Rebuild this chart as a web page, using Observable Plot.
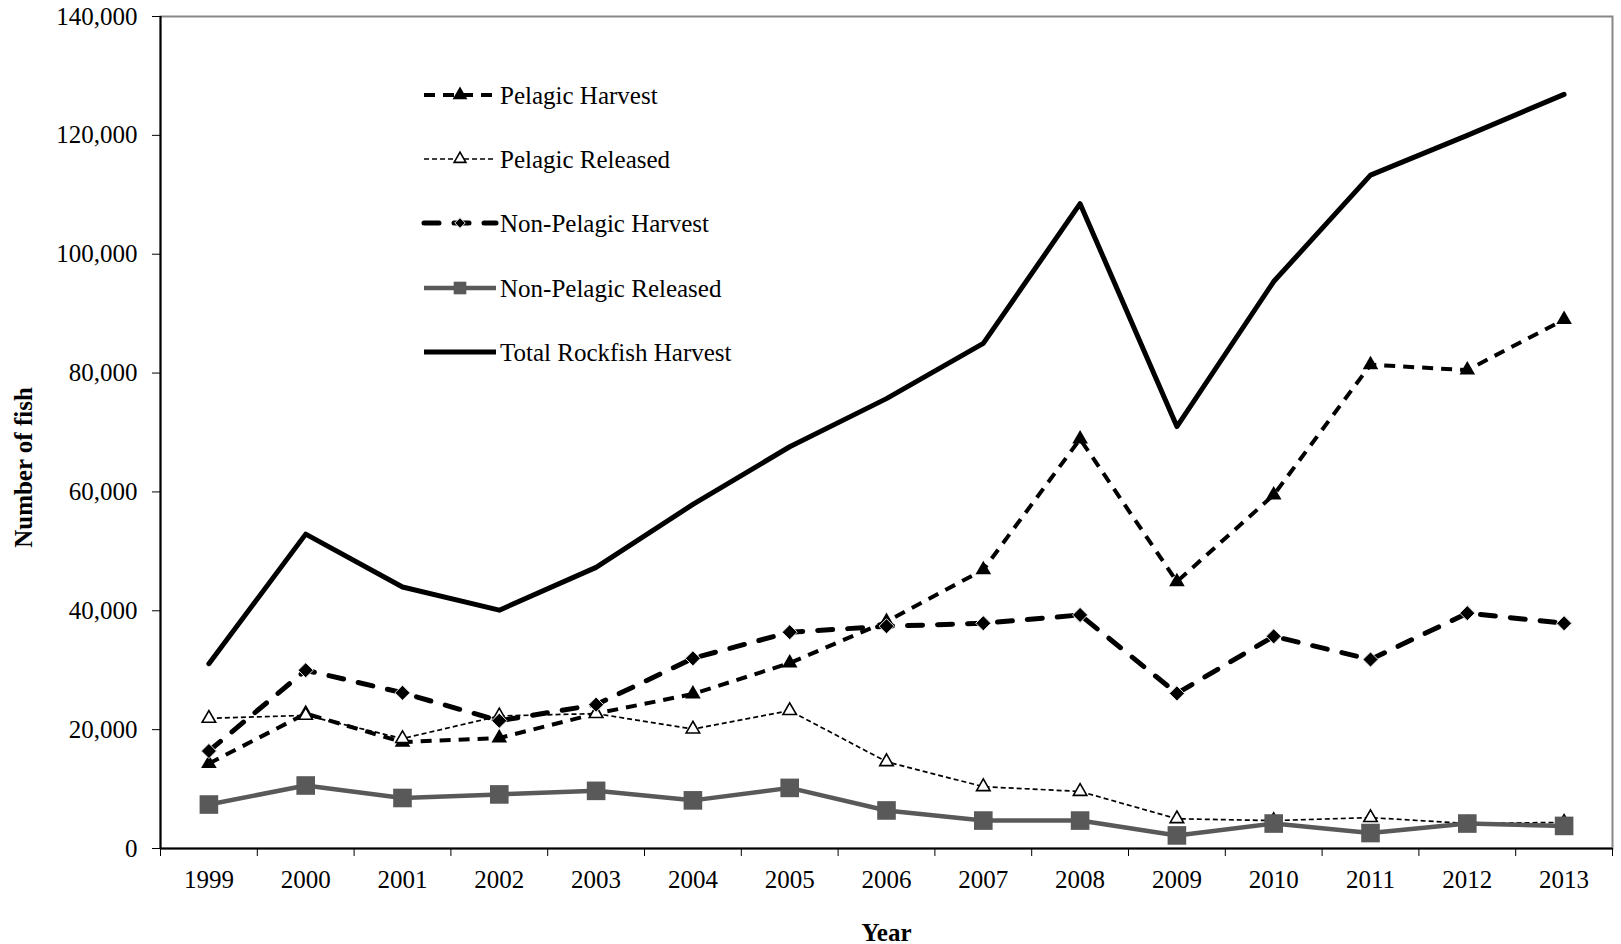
<!DOCTYPE html>
<html><head><meta charset="utf-8">
<script src="https://cdn.jsdelivr.net/npm/d3@7"></script>
<script src="https://cdn.jsdelivr.net/npm/@observablehq/plot@0.6"></script>
<style>
body{margin:0;background:#fff;}
#chart{width:1621px;height:944px;}
</style></head><body><div id="chart"></div>
<script>
const years = [1999,2000,2001,2002,2003,2004,2005,2006,2007,2008,2009,2010,2011,2012,2013];
const pelagicHarvest     = [14300,22700,17900,18600,22700,26000,31200,38200,46900,68900,44900,59500,81400,80500,89000];
const pelagicReleased    = [21900,22400,18500,22300,22700,20100,23200,14600,10400,9600,5000,4700,5200,4200,4400];
const nonPelagicHarvest  = [16400,30000,26200,21500,24200,32000,36400,37400,37900,39300,26100,35700,31800,39600,37900];
const nonPelagicReleased = [7400,10600,8500,9100,9700,8100,10200,6400,4700,4700,2200,4200,2600,4200,3800];
const totalHarvest       = [31100,52900,44000,40100,47300,57900,67600,75700,85000,108500,71000,95400,113300,120000,126900];
const yTicks = [0,20000,40000,60000,80000,100000,120000,140000];
const seriesNames = ["Pelagic Harvest","Pelagic Released","Non-Pelagic Harvest","Non-Pelagic Released","Total Rockfish Harvest"];

const rows = vals => years.map((year, i) => ({year, value: vals[i]}));
const boundaries = years.map(y => y - 0.5).concat([years[years.length - 1] + 0.5]);

const styles = [
  {data: rows(pelagicHarvest), stroke: "#000", width: 4, dash: "11,8", cap: "butt",
   symbol: "triangle", r: 5.8, fill: "#000", mstroke: "none", mw: 0},
  {data: rows(pelagicReleased), stroke: "#000", width: 1.7, dash: "5,3", cap: "butt",
   symbol: "triangle", r: 5.0, fill: "#fff", mstroke: "#000", mw: 1.6},
  {data: rows(nonPelagicHarvest), stroke: "#000", width: 5, dash: "15,15", cap: "round",
   symbol: "diamond2", r: 6.8, fill: "#000", mstroke: "#e6e6e6", mw: 1},
  {data: rows(nonPelagicReleased), stroke: "#595959", width: 4.5, dash: null, cap: "round",
   symbol: "square", r: 10.5, fill: "#595959", mstroke: "none", mw: 0},
  {data: rows(totalHarvest), stroke: "#000", width: 5, dash: null, cap: "round",
   symbol: null}
];

const seriesMarks = styles.flatMap(s => {
  const m = [Plot.line(s.data, {x: "year", y: "value", stroke: s.stroke, strokeWidth: s.width,
    strokeDasharray: s.dash, strokeLinecap: s.cap, strokeLinejoin: "round"})];
  if (s.symbol) m.push(Plot.dot(s.data, {x: "year", y: "value", symbol: s.symbol, r: s.r,
    fill: s.fill, stroke: s.mstroke, strokeWidth: s.mw}));
  return m;
});

const legend = () => {
  const g = d3.create("svg:g").attr("text-anchor", "start");
  const rowY = [95, 159, 223, 288, 352];
  const lx0 = 424, lx1 = 496, mx = 460, tx = 500;
  styles.forEach((s, i) => {
    const y = rowY[i];
    g.append("line").attr("x1", lx0).attr("x2", lx1).attr("y1", y).attr("y2", y)
      .attr("stroke", s.stroke).attr("stroke-width", s.width)
      .attr("stroke-dasharray", s.dash).attr("stroke-linecap", s.cap === "round" && s.dash ? "round" : "butt");
    if (s.symbol) {
      const sym = {triangle: d3.symbolTriangle, diamond2: d3.symbolDiamond2, square: d3.symbolSquare}[s.symbol];
      const sz = s.symbol === "square" ? 160 : s.symbol === "diamond2" ? 70 : s.fill === "#000" ? 95 : 60;
      g.append("path").attr("d", d3.symbol(sym, sz)()).attr("transform", `translate(${mx},${y})`)
        .attr("fill", s.fill).attr("stroke", s.mstroke).attr("stroke-width", s.mw);
    }
    g.append("text").attr("x", tx).attr("y", y).attr("dy", "0.34em").attr("text-anchor", "start")
      .attr("font-size", 25).attr("fill", "#000").text(seriesNames[i]);
  });
  return g.node();
};

const plot = Plot.plot({
  width: 1621, height: 944,
  marginLeft: 160, marginRight: 9, marginTop: 16, marginBottom: 96,
  style: {fontFamily: "'Liberation Serif','Times New Roman',serif", fontSize: "25px", color: "#000", background: "#fff"},
  x: {domain: [boundaries[0], boundaries[boundaries.length - 1]]},
  y: {domain: [0, 140000]},
  marks: [
    Plot.frame({stroke: "#888", strokeWidth: 2}),
    Plot.axisY({ticks: yTicks, tickFormat: d3.format(","), tickSize: 8, tickPadding: 15, fontSize: 25, label: null}),
    Plot.axisX({ticks: boundaries, tickSize: 8, tickFormat: () => "", label: null}),
    Plot.axisX({ticks: years, tickSize: 0, tickPadding: 22, tickFormat: d => String(d), fontSize: 25, label: null}),
    Plot.ruleY([0], {stroke: "#000", strokeWidth: 2}),
    Plot.ruleX([boundaries[0]], {stroke: "#000", strokeWidth: 2}),
    ...seriesMarks,
    Plot.text(["Year"], {frameAnchor: "bottom", dy: 84, lineAnchor: "middle", textAnchor: "middle", fontWeight: "bold", fontSize: 25}),
    Plot.text(["Number of fish"], {frameAnchor: "left", dx: -137, dy: 35, rotate: -90, textAnchor: "middle", lineAnchor: "middle", fontWeight: "bold", fontSize: 25}),
    legend
  ]
});
document.getElementById("chart").appendChild(plot);
</script>
</body></html>
